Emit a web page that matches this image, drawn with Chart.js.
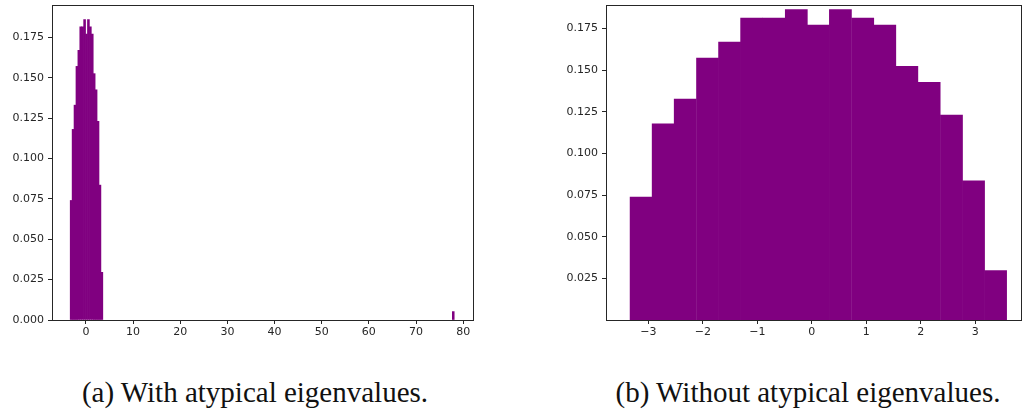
<!DOCTYPE html>
<html>
<head>
<meta charset="utf-8">
<script src="https://cdn.jsdelivr.net/npm/chart.js@4.4.1/dist/chart.umd.min.js"></script>
<style>
  body { margin: 0; background: #fff; width: 1023px; height: 413px; position: relative; overflow: hidden; }
  #wrapA { position: absolute; left: 0; top: 0; width: 500px; height: 350px; }
  #wrapB { position: absolute; left: 500px; top: 0; width: 523px; height: 350px; }
  .caption { position: absolute; top: 376px; font-family: "Liberation Serif", serif; font-size: 29px; line-height: 33px; color: #111; white-space: nowrap; transform: translateX(-50%); }
</style>
</head>
<body>
<div id="wrapA"><canvas id="chartA"></canvas></div>
<div id="wrapB"><canvas id="chartB"></canvas></div>
<div class="caption" style="left:255px">(a) With atypical eigenvalues.</div>
<div class="caption" style="left:808px">(b) Without atypical eigenvalues.</div>
<script>
// histogram bins (eigenvalue bin edges, width ~0.407)
const binEdges = [-3.34, -2.93, -2.53, -2.12, -1.71, -1.31, -0.90, -0.49, -0.08, 0.32, 0.73, 1.14, 1.54, 1.95, 2.36, 2.77, 3.17, 3.58];
// densities without the outlier (right panel)
const densB = [0.0737, 0.1177, 0.1326, 0.1572, 0.1668, 0.1812, 0.1812, 0.1862, 0.1769, 0.1862, 0.1812, 0.1769, 0.1522, 0.1426, 0.1230, 0.0835, 0.0296];
// densities with the outlier (left panel)
const densA = [0.0740, 0.1180, 0.1330, 0.1570, 0.1670, 0.1815, 0.1815, 0.1860, 0.1770, 0.1860, 0.1815, 0.1770, 0.1525, 0.1425, 0.1230, 0.0835, 0.0295];
const outlierX = 77.9;
const outlierDens = 0.0052;

const xTicksA = [0, 10, 20, 30, 40, 50, 60, 70, 80];
const yTicksA = [0, 0.025, 0.05, 0.075, 0.1, 0.125, 0.15, 0.175];
const xTicksB = [-3, -2, -1, 0, 1, 2, 3];
const yTicksB = [0.025, 0.05, 0.075, 0.1, 0.125, 0.15, 0.175];

const purple = '#800080';
const ink = '#262626';
const tickFont = { family: 'DejaVu Sans', size: 11 };

function toPoints(dens) {
    let pts = [];
    for (let i = 0; i < dens.length; i++) {
        pts.push({ x: (binEdges[i] + binEdges[i + 1]) / 2, y: dens[i] });
    }
    return pts;
}

function fmtMinus(v) {
    return String(v).replace('-', '\u2212');
}

// draws the box around the plot area like matplotlib
const frame = {
    id: 'frame',
    afterDraw(chart) {
        const a = chart.chartArea;
        const c = chart.ctx;
        c.save();
        c.strokeStyle = ink;
        c.lineWidth = 1;
        c.strokeRect(Math.round(a.left) + 0.5, Math.round(a.top) + 0.5, Math.round(a.right - a.left) - 1, Math.round(a.bottom - a.top));
        c.restore();
    }
};

function makeChart(id, points, xMin, xMax, yMax, xTicks, yTicks, yFmt, yWidth, padRight) {
    return new Chart(document.getElementById(id), {
        type: 'bar',
        data: {
            datasets: [{
                data: points,
                backgroundColor: purple,
                borderWidth: 0,
                barPercentage: 1.0,
                categoryPercentage: 1.0
            }]
        },
        options: {
            responsive: true,
            maintainAspectRatio: false,
            animation: false,
            layout: { padding: { top: 5, right: padRight, left: 0, bottom: 0 } },
            plugins: { legend: { display: false }, tooltip: { enabled: false } },
            scales: {
                x: {
                    type: 'linear',
                    min: xMin,
                    max: xMax,
                    offset: false,
                    afterBuildTicks: (s) => { s.ticks = xTicks.map(v => ({ value: v })); },
                    afterFit: (s) => { s.height = 30; s.paddingLeft = 0; s.paddingRight = 0; },
                    grid: { display: true, drawOnChartArea: false, drawTicks: true, tickLength: 4, color: ink, offset: false },
                    border: { display: false },
                    ticks: { color: ink, font: tickFont, padding: 2, maxRotation: 0, callback: (v) => fmtMinus(v) }
                },
                y: {
                    min: 0,
                    max: yMax,
                    afterBuildTicks: (s) => { s.ticks = yTicks.map(v => ({ value: v })); },
                    afterFit: (s) => { s.width = yWidth; s.paddingTop = 0; s.paddingBottom = 0; },
                    grid: { display: true, drawOnChartArea: false, drawTicks: true, tickLength: 4, color: ink },
                    border: { display: false },
                    ticks: { color: ink, font: tickFont, padding: 4, callback: yFmt }
                }
            }
        },
        plugins: [frame]
    });
}

const ptsA = toPoints(densA);
ptsA.push({ x: outlierX, y: outlierDens });

const chartA = makeChart('chartA', ptsA, -7.2, 82.3, 0.195, xTicksA, yTicksA, (v) => v.toFixed(3), 52, 26);
const chartB = makeChart('chartB', toPoints(densB), -3.78, 3.86, 0.189, xTicksB, yTicksB, (v) => v.toFixed(3), 106, 1);
</script>
</body>
</html>
